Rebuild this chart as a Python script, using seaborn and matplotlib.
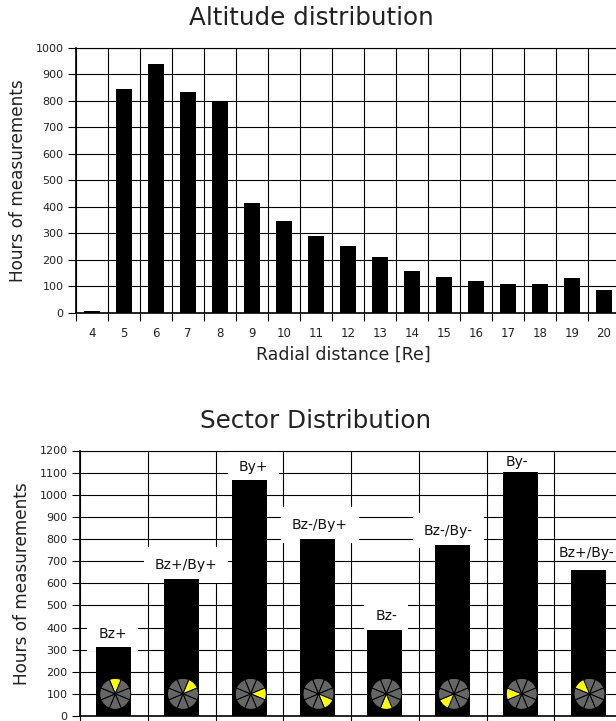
import matplotlib
matplotlib.use("Agg")
import matplotlib.pyplot as plt
import pandas as pd
import seaborn as sns

# Data

radial_distance = ["4", "5", "6", "7", "8", "9", "10", "11", "12", "13",
                   "14", "15", "16", "17", "18", "19", "20"]
altitude_hours = [6, 843, 937, 832, 800, 415, 345, 290, 252, 210,
                  160, 135, 120, 110, 108, 133, 88]

sectors = ["Bz+", "Bz+/By+", "By+", "Bz-/By+", "Bz-", "Bz-/By-", "By-", "Bz+/By-"]
sector_hours = [310, 620, 1065, 800, 388, 775, 1105, 660]
# which slice of the wheel is lit, clockwise from the top
lit_slice = [0, 1, 2, 3, 4, 5, 6, 7]

# label nudges in points, the labels do not sit dead centre on the bars
label_dx = [-1, 3, 3, 2, 1, -3, -2.5, -1]
label_dy = [10, 10, 9.5, 10, 10, 10, 7, 12]
# the last two labels have no white box behind them
label_box = [True, True, True, True, True, True, False, False]

sns.set_style("white")
plt.rcParams["font.family"] = "DejaVu Sans"

W, H = 616, 721
fig = plt.figure(figsize=(W / 100, H / 100), dpi=100)


def make_axes(left, top, right, bottom):
    return fig.add_axes([left / W, 1 - bottom / H, (right - left) / W, (bottom - top) / H])


def style_axes(ax, n, ymax, step):
    ax.set_xlim(-0.5, n - 0.5)
    ax.set_ylim(0, ymax)
    ax.set_yticks(range(0, ymax + 1, step))
    # grid sits between the categories, so the vertical lines are minor ticks
    ax.set_xticks([i - 0.5 for i in range(n + 1)], minor=True)
    ax.grid(True, which="major", axis="y", color="black", lw=0.8, zorder=1)
    ax.grid(True, which="minor", axis="x", color="black", lw=0.8, zorder=1)
    ax.set_axisbelow(True)
    ax.tick_params(axis="y", which="major", left=True, length=6, width=0.8,
                   color="black", labelsize=8, pad=3, labelcolor="#222222")
    ax.tick_params(axis="x", which="minor", bottom=True, length=6, width=0.8, color="black")
    ax.tick_params(axis="x", which="major", bottom=False, length=0, labelsize=8.5,
                   pad=10, labelcolor="#222222")
    for side in ax.spines.values():
        side.set_color("black")
        side.set_linewidth(0.8)
    ax.spines["left"].set_linewidth(1.2)
    ax.spines["bottom"].set_linewidth(1.2)


# Altitude distribution

ax1 = make_axes(76, 47.5, 620, 313)
df_alt = pd.DataFrame({"distance": radial_distance, "hours": altitude_hours})
sns.barplot(data=df_alt, x="distance", y="hours", color="black", saturation=1,
            width=0.53, linewidth=0, zorder=3, ax=ax1)
style_axes(ax1, len(radial_distance), 1000, 100)
ax1.set_xlabel("Radial distance [Re]", fontsize=12.5, labelpad=4, color="#222222", x=0.491)
ax1.set_ylabel("Hours of measurements", fontsize=12.2, labelpad=6, color="#222222")
fig.text(311.5 / W, 1 - 18 / H, "Altitude distribution", fontsize=17.7,
         ha="center", va="center", color="#222222")

# Sector distribution

ax2 = make_axes(80, 450.5, 622, 716)
df_sec = pd.DataFrame({"sector": sectors, "hours": sector_hours})
sns.barplot(data=df_sec, x="sector", y="hours", color="black", saturation=1,
            width=0.52, linewidth=0, zorder=3, ax=ax2)
style_axes(ax2, len(sectors), 1200, 100)
ax2.set_xticklabels([])
ax2.set_xlabel("")
ax2.set_ylabel("Hours of measurements", fontsize=12.2, labelpad=6, color="#222222")
fig.text(316 / W, 1 - 421 / H, "Sector Distribution", fontsize=17.7,
         ha="center", va="center", color="#222222")

for i, (name, hours) in enumerate(zip(sectors, sector_hours)):
    # white box goes under the bars so it stops at the bar top
    box = dict(boxstyle="square,pad=0.78", fc="white", ec="none") if label_box[i] else None
    ax2.annotate(name, (i, hours), xytext=(label_dx[i], label_dy[i]),
                 textcoords="offset points", ha="center", va="center", fontsize=10,
                 color="#111111", zorder=2, bbox=box)

    wheel = ax2.inset_axes([i - 0.21, 30, 0.46, 140], transform=ax2.transData, zorder=5)
    colors = ["#666666"] * 8
    colors[lit_slice[i]] = "#ffff00"
    wheel.pie([1] * 8, colors=colors, startangle=90 + 22.5, counterclock=False,
              wedgeprops=dict(edgecolor="black", linewidth=0.7))
    wheel.set_xlim(-1, 1)
    wheel.set_ylim(-1, 1)

fig.savefig("out.png", dpi=100)
